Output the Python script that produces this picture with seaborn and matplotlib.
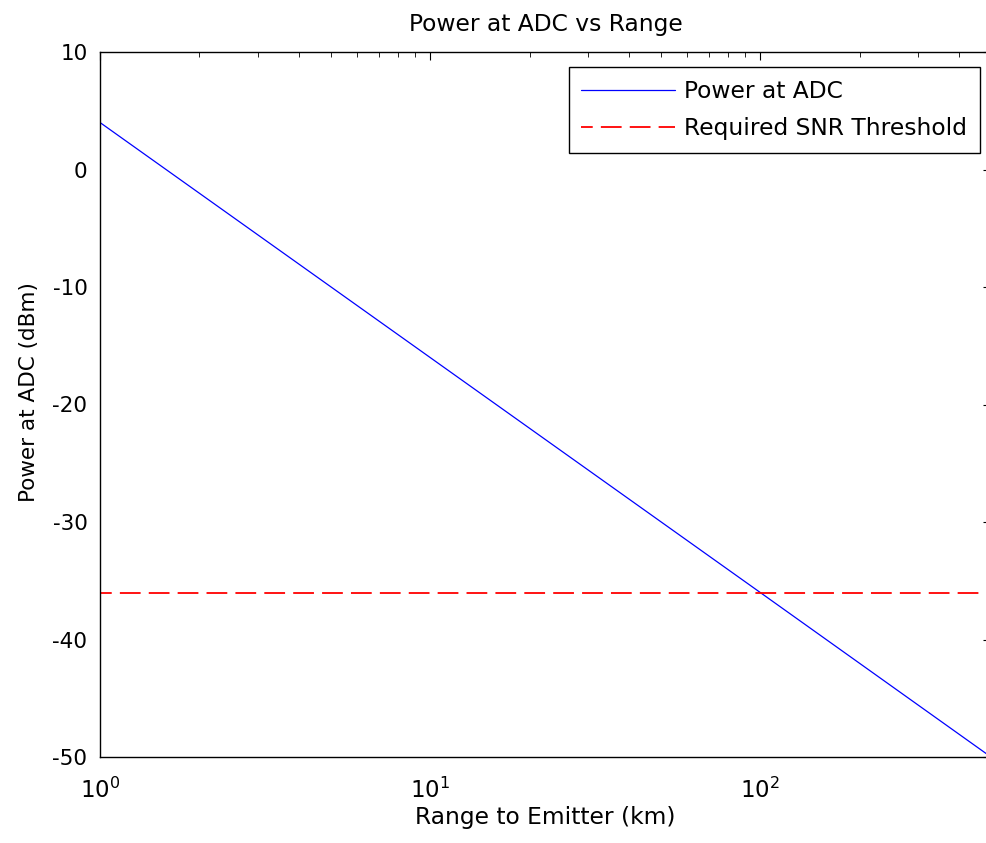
import matplotlib
matplotlib.use("Agg")
import matplotlib.pyplot as plt
import seaborn as sns
import pandas as pd
from matplotlib.ticker import LogLocator, NullFormatter

range_km = [1, 10, 100, 500]
power_dbm = [4, -16, -36, -50]
threshold_dbm = -36
yticks = [-50, -40, -30, -20, -10, 0, 10]

sns.set_style("white")
plt.rcParams['font.family'] = ['DejaVu Sans']
plt.rcParams['axes.unicode_minus'] = False
plt.rcParams['text.color'] = 'black'
plt.rcParams['axes.labelcolor'] = 'black'
plt.rcParams['mathtext.default'] = 'regular'

FS = 15.5
FL = 16.8

fig = plt.figure(figsize=(9.87, 8.43), dpi=100)
ax = fig.add_axes([100/987, 1-757/843, 891/987, 705/843])

df = pd.DataFrame({"range": range_km, "power": power_dbm})
sns.lineplot(data=df, x="range", y="power", ax=ax, color="#0000ff", lw=0.9,
             label="Power at ADC")
ax.axhline(threshold_dbm, color="#ff0000", lw=1.3, ls=(5, (11.5, 4.5)),
           label="Required SNR Threshold")

ax.set_xscale("log")
ax.set_xlim(1, 500)
ax.set_ylim(-50, 10)
ax.set_yticks(yticks)
ax.xaxis.set_major_locator(LogLocator(base=10, numticks=10))
ax.xaxis.set_minor_locator(LogLocator(base=10, subs=range(2, 10), numticks=20))
ax.xaxis.set_minor_formatter(NullFormatter())

for s in ax.spines.values():
    s.set_color("black")
    s.set_linewidth(1.0)

ax.tick_params(axis="both", which="both", direction="in", top=True, right=True,
               colors="black", labelsize=FS)
ax.tick_params(which="major", length=6)
ax.tick_params(which="minor", length=3.5)
ax.tick_params(axis="x", pad=15, labelsize=FS + 1)
ax.tick_params(axis="y", pad=9)

ax.set_title("Power at ADC vs Range", fontsize=FL, pad=15, color="black")
ax.set_xlabel("Range to Emitter (km)", fontsize=FL, labelpad=2)
ax.set_ylabel("Power at ADC (dBm)", fontsize=FS)
ax.yaxis.set_label_coords(-0.068, 0.518)

leg = ax.legend(loc="upper right", fontsize=FL, frameon=True, fancybox=False,
                edgecolor="black", framealpha=1, borderpad=0.55,
                handlelength=4.0, handletextpad=0.4, labelspacing=0.6,
                borderaxespad=0, bbox_to_anchor=(880/891, 690/705))
leg.get_frame().set_linewidth(1.0)

fig.savefig("out.png", dpi=100)
